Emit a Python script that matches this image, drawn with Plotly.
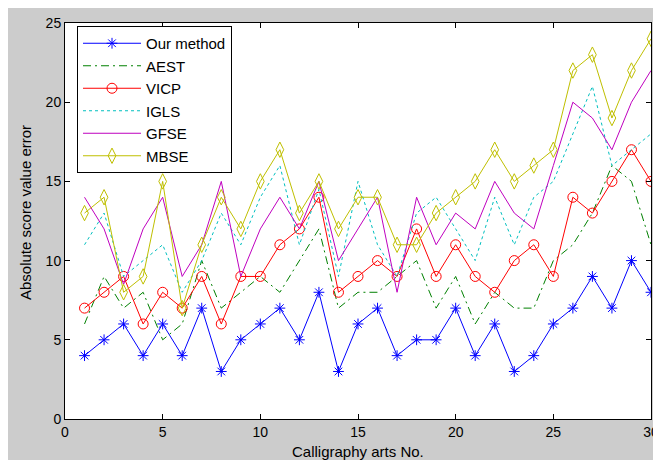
import plotly.graph_objects as go

x_vals = list(range(1, 31))
ours = [4, 5, 6, 4, 6, 4, 7, 3, 5, 6, 7, 5, 8, 3, 6, 7, 4, 5, 5, 7, 4, 6, 3, 4, 6, 7, 9, 7, 10, 8]
aest = [6, 9, 7, 8, 5, 6, 10, 7, 8, 9, 8, 10, 12, 7, 8, 8, 9, 10, 7, 9, 6, 8, 7, 7, 10, 11, 13, 16, 15, 11]
vicp = [7, 8, 9, 6, 8, 7, 9, 6, 9, 9, 11, 12, 14, 8, 9, 10, 9, 12, 9, 11, 9, 8, 10, 11, 9, 14, 13, 15, 17, 15]
igls = [11, 13, 9, 10, 11, 8, 10, 13, 11, 14, 16, 11, 14.5, 9, 15, 11, 9, 13, 14, 12, 10, 14, 11, 14, 15, 18, 21, 16, 17, 18]
gfse = [14, 12, 8.5, 12, 14, 9, 11, 15, 9, 12, 14, 12, 15, 10, 12, 14, 8, 14, 11, 13, 12, 15, 13, 12, 16, 20, 19, 17, 20, 22]
mbse = [13, 14, 8, 9, 15, 7, 11, 14, 12, 15, 17, 13, 15, 12, 14, 14, 11, 11, 13, 14, 15, 17, 15, 16, 17, 22, 23, 19, 22, 24]

x_ticks = [0, 5, 10, 15, 20, 25, 30]
y_ticks = [0, 5, 10, 15, 20, 25]

FONT = "Liberation Sans, Arial, sans-serif"
GRAY = "#cccccc"

fig = go.Figure()

def add(name, y, color, dash, symbol, msize):
    fig.add_trace(go.Scatter(
        x=x_vals, y=y, name=name,
        mode="lines+markers" if symbol else "lines",
        line=dict(color=color, width=1, dash=dash),
        marker=dict(symbol=symbol or "circle", size=msize, color=color,
                    line=dict(color=color, width=1)),
    ))

add("Our method", ours, "#0000ff", "solid", "asterisk-open", 9)
add("AEST", aest, "#008000", "8px,4px,2px,4px", None, 0)
add("VICP", vicp, "#ff0000", "solid", "circle-open", 10)
add("IGLS", igls, "#00bfbf", "3px,3px", None, 0)
add("GFSE", gfse, "#bf00bf", "solid", None, 0)
add("MBSE", mbse, "#bfbf00", "solid", "diamond-tall-open", 11)

# page body margin of 8px offsets the figure; size the figure to fit the window
OFF = 8
W, H = 661 - OFF, 460 - OFF
L, R, T, B = 65 - OFF, 10, 23 - OFF, 460 - 419
pw, ph = W - L - R, H - T - B

def px_x(px):
    return (px - OFF - L) / pw

def px_y(py):
    return 1 - (py - OFF - T) / ph

fig.update_layout(
    width=W, height=H,
    margin=dict(l=L, r=R, t=T, b=B, autoexpand=False),
    paper_bgcolor=GRAY,
    plot_bgcolor="white",
    font=dict(family=FONT, size=14, color="black"),
    showlegend=True,
    legend=dict(
        x=px_x(77), y=px_y(26), xanchor="left", yanchor="top",
        bgcolor="white", bordercolor="black", borderwidth=1,
        font=dict(family=FONT, size=15, color="black"),
        itemwidth=58,
    ),
    annotations=[
        dict(text="Calligraphy arts No.", xref="paper", yref="paper",
             x=0.5, y=px_y(452), xanchor="center", yanchor="middle",
             showarrow=False, font=dict(family=FONT, size=15, color="black")),
        dict(text="Absolute score value error", xref="paper", yref="paper",
             x=px_x(25), y=px_y(213), xanchor="center", yanchor="middle",
             textangle=-90, showarrow=False, font=dict(family=FONT, size=15, color="black")),
    ],
)

fig.update_xaxes(
    range=[0, 30], tickvals=x_ticks, ticktext=[str(v) for v in x_ticks],
    showgrid=False, zeroline=False, automargin=False,
    showline=True, linecolor="black", linewidth=1, mirror="ticks",
    ticks="inside", ticklen=5, tickcolor="black",
    tickfont=dict(family=FONT, size=14, color="black"),
)
fig.update_yaxes(
    range=[0, 25], tickvals=y_ticks, ticktext=[str(v) for v in y_ticks],
    showgrid=False, zeroline=False, automargin=False,
    showline=True, linecolor="black", linewidth=1, mirror="ticks",
    ticks="inside", ticklen=5, tickcolor="black",
    tickfont=dict(family=FONT, size=14, color="black"),
)

fig.write_html("out.html")
